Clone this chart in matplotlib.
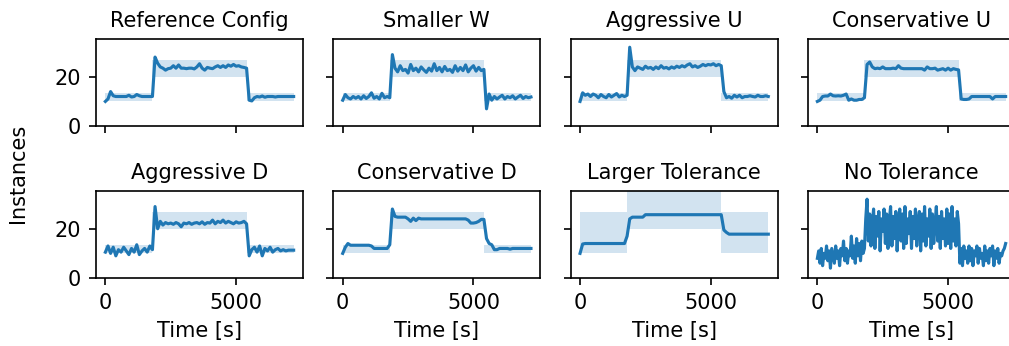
"""Instance count over time for eight autoscaler configurations.

Each panel shows the number of running instances (line) against the target
band for the three load phases (shaded).
"""
import matplotlib
matplotlib.use("Agg")
import matplotlib.pyplot as plt

# sample times, one reading every 100 s (every 50 s for the noisy run)
TIME_S = list(range(0, 7201, 100))
TIME_FINE_S = list(range(0, 7201, 50))

TITLES = [
    "Reference Config", "Smaller W", "Aggressive U", "Conservative U",
    "Aggressive D", "Conservative D", "Larger Tolerance", "No Tolerance",
]

REFERENCE = [
    10, 11, 14, 12.3, 12, 12, 12, 12, 12, 12.5, 11.8, 12, 12.8, 12.3, 12, 12, 12, 12, 12,
    28, 25.5, 24, 23.5, 22.7, 23.3, 23.5, 24.5, 23.5, 24.8,
    23.5, 23.5, 23.3, 23.5, 23.5, 23.2, 24, 25.3, 23.5, 22.7, 23.8, 23.5, 23.3,
    24, 24.5, 23.8, 24.5, 23.8, 24.8, 24.3, 25, 24.3, 24.5, 24, 23.8, 23.5,
    10.5, 10.2, 11.5, 12, 11.8, 12.2, 11.7, 12, 12, 12, 11.8, 12, 12, 12, 12, 12, 12, 12,
]
SMALLER_W = [
    10.5, 12.8, 11.5, 11, 12, 11.3, 12, 11, 12.3, 11.2, 12, 13.5, 11.3, 12, 11, 13.3, 11.5, 12, 11.5,
    29,
    23.5, 22, 24.5, 22.5, 23, 21.5, 25, 22.5, 23.5, 22, 24, 22.8, 21.8, 23.5, 22.3, 25.3, 22.5,
    23.8, 22, 24.2, 22.5, 23, 21.8, 24.5, 22.3, 23.8, 22.5, 24.8, 22, 23.5, 24.5, 22.3, 23.8, 22.5, 23,
    7, 13, 10.5, 12, 11, 11.8, 12.5, 11, 12, 11.5, 12.3, 11, 11.8, 12.5, 11.2, 12, 11.5, 11.8,
]
AGGRESSIVE_U = [
    10, 13.5, 12.5, 13, 12, 13, 12.5, 11.5, 12.8, 12, 11.5, 12.8, 11.8, 12.5, 13.2, 11.8, 12.5, 12, 12.5,
    32, 24,
    22.5, 24, 23.5, 23, 24.3, 23.5, 23.8, 23, 24, 23.3, 24.5, 23.5, 23.8, 23.2, 24, 23.5, 24.3,
    23.8, 24.5, 24, 24.8, 25.3, 24, 24.5, 23.8, 24.3, 25, 24.5, 25, 24.8, 25.3, 24.5, 25, 24.5,
    14,
    11.5, 12, 11.3, 12.5, 11.8, 12.5, 11.5, 12, 12, 12.3, 12, 11.8, 12.5, 12, 12, 12.3, 12,
]
CONSERVATIVE_U = [
    10, 10.5, 12, 12.2, 12.2, 13, 12.3, 12.2, 12.3, 12.2, 12.5, 13, 10.5, 11, 10.5, 10.5, 10.8, 10.8, 11.5,
    25, 26, 24,
    23.3, 23.5, 23.3, 24, 23.3, 23.3, 23.3, 23.5, 23.3, 24.5, 23.5, 23.3, 23.3, 23.3, 23.3, 23.3, 23.3,
    23.3, 23.3, 22.7, 24, 23.3, 23.3, 23.5, 22.7, 23, 23.3, 22.7, 23.5, 22.7, 23.3, 23, 22.8,
    11,
    10.8, 10.8, 11, 12, 12, 12, 12, 12, 12, 12, 12, 11, 12, 12, 12, 12, 12,
]
AGGRESSIVE_D = [
    10.5, 13, 10, 12.5, 9, 11.5, 10.5, 12.5, 11, 9.5, 12, 10.5, 13.5, 9.5, 11, 12, 10.5, 13, 11.5,
    29, 20, 23,
    21.5, 22.5, 22, 22.3, 21.8, 22.5, 22, 20.8, 22.3, 22, 22.5, 21.8, 22.3, 22.5, 22, 22.8, 21.8,
    22.5, 22.3, 23.5, 22, 23, 22.5, 23.5, 22.3, 23, 22.5, 22, 22.8, 22.3, 22.5, 23, 22,
    9,
    11.5, 12.5, 10.5, 13, 9, 12, 11, 12.5, 10.5, 11.5, 12, 11, 11.5, 11, 11.3, 11.3, 11.3,
]
CONSERVATIVE_D = [
    10, 12.5, 14, 13.3, 13.3, 13.3, 13.3, 13.3, 13.3, 13.3, 13.3, 13, 12, 12, 12, 12, 12, 12, 13.5,
    28, 25,
    24.7, 24.7, 24.7, 24.7, 24.0, 23.0, 24.3, 23.3, 24.3, 24.0, 24.0, 24.0, 24.0, 24.0, 24.0, 24.0, 24.0,
    24.0, 24.0, 24.0, 24.0, 24.0, 24.0, 24.0, 24.0, 24.0, 24.0, 23.5, 22.3, 22.3, 22.5, 23.0, 23.8, 23.8,
    16, 14, 13.5, 11.5,
    11.5, 12, 12, 12, 12, 11.7, 12, 12, 12, 12, 12, 12, 12, 12,
]
LARGER_TOLERANCE = [
    10, 13.8, 14, 14, 14, 14, 14, 14, 14, 14, 14, 14, 14, 14, 14, 14, 14, 14, 17,
    24, 24.7, 24.7, 24.7, 24.7, 24.7,
    25.7, 25.7, 25.7, 25.7, 25.7, 25.7, 25.7, 25.7, 25.7, 25.7, 25.7, 25.7, 25.7, 25.7, 25.7,
    25.7, 25.7, 25.7, 25.7, 25.7, 25.7, 25.7, 25.7, 25.7, 25.7, 25.7, 25.7, 25.7, 25.7, 25.7,
    19.5, 18.5,
    17.8, 17.8, 17.8, 17.8, 17.8, 17.8, 17.8, 17.8, 17.8, 17.8, 17.8, 17.8, 17.8, 17.8, 17.8, 17.8,
]
# read on the 50 s grid
NO_TOLERANCE = [
    8, 11, 6, 12, 5, 10, 8, 13, 7, 11, 4, 12, 9, 6, 13, 8, 11, 5, 12, 9,
    15, 7, 12, 6, 11, 9, 17, 8, 13, 6, 16, 9, 14, 7, 15, 10, 12,
    24, 32, 15, 26, 13, 22, 28, 12, 25, 17, 27, 11, 24, 19, 28, 14, 26, 12, 23, 29,
    13, 25, 16, 27, 11, 22, 28, 15, 26, 12, 29, 14, 24, 18, 27, 12, 25, 16, 28, 13,
    23, 27, 11, 26, 15, 29, 13, 24, 17, 28, 12, 26, 14, 22, 29, 15, 25, 12, 27, 16,
    24, 13, 28, 14, 26, 12, 29, 15, 24, 13, 27, 22,
    6, 12, 5, 13, 8, 11, 6, 13, 7, 12, 5, 11, 9, 13, 6, 12, 8, 10,
    5, 13, 7, 11, 6, 12, 9, 13, 5, 11, 8, 12, 6, 10, 9, 11, 12, 14,
]

SERIES = [
    REFERENCE, SMALLER_W, AGGRESSIVE_U, CONSERVATIVE_U,
    AGGRESSIVE_D, CONSERVATIVE_D, LARGER_TOLERANCE, NO_TOLERANCE,
]
SERIES_TIMES = [TIME_S] * 7 + [TIME_FINE_S]

# target band per load phase
PHASE_EDGES_S = [0, 1800, 5400, 7200]
BAND_LOW = [10, 20, 10]
BAND_HIGH = [13.33, 26.67, 13.33]
BAND_HIGH_LARGE = [26.67, 53.33, 26.67]
BAND_HIGH_NONE = [10, 20, 10]
BAND_HIGHS = [
    BAND_HIGH, BAND_HIGH, BAND_HIGH, BAND_HIGH,
    BAND_HIGH, BAND_HIGH, BAND_HIGH_LARGE, BAND_HIGH_NONE,
]

for t, s in zip(SERIES_TIMES, SERIES):
    assert len(s) == len(t), len(s)

plt.rcParams["font.size"] = 10
plt.rcParams["font.family"] = ["DejaVu Sans"]

fig, axes = plt.subplots(2, 4, sharex=True, sharey=True,
                         figsize=(1009 / 150, 346 / 150), dpi=150)
fig.subplots_adjust(left=0.0951, right=1.006, bottom=0.1965, top=0.887,
                    wspace=0.146, hspace=0.747)

for ax, title, times, values, highs in zip(axes.flat, TITLES, SERIES_TIMES,
                                           SERIES, BAND_HIGHS):
    for k in range(len(BAND_LOW)):
        ax.fill_between(PHASE_EDGES_S[k:k + 2], BAND_LOW[k], highs[k],
                        color="C0", alpha=0.2, linewidth=0)
    ax.plot(times, values, color="C0", linewidth=1.5)
    ax.set_title(title, fontsize=10)

for ax in axes[1]:
    ax.set_xlabel("Time [s]")

ax = axes[0, 0]
ax.set_xticks([0, 5000])
ax.set_yticks([0, 20])
ax.set_xlim(-360, 7560)
ax.set_ylim(0, 35.3)

fig.text(0.0175, 0.5, "Instances", rotation=90, ha="center", va="center")

fig.savefig("out.png", dpi=150)
